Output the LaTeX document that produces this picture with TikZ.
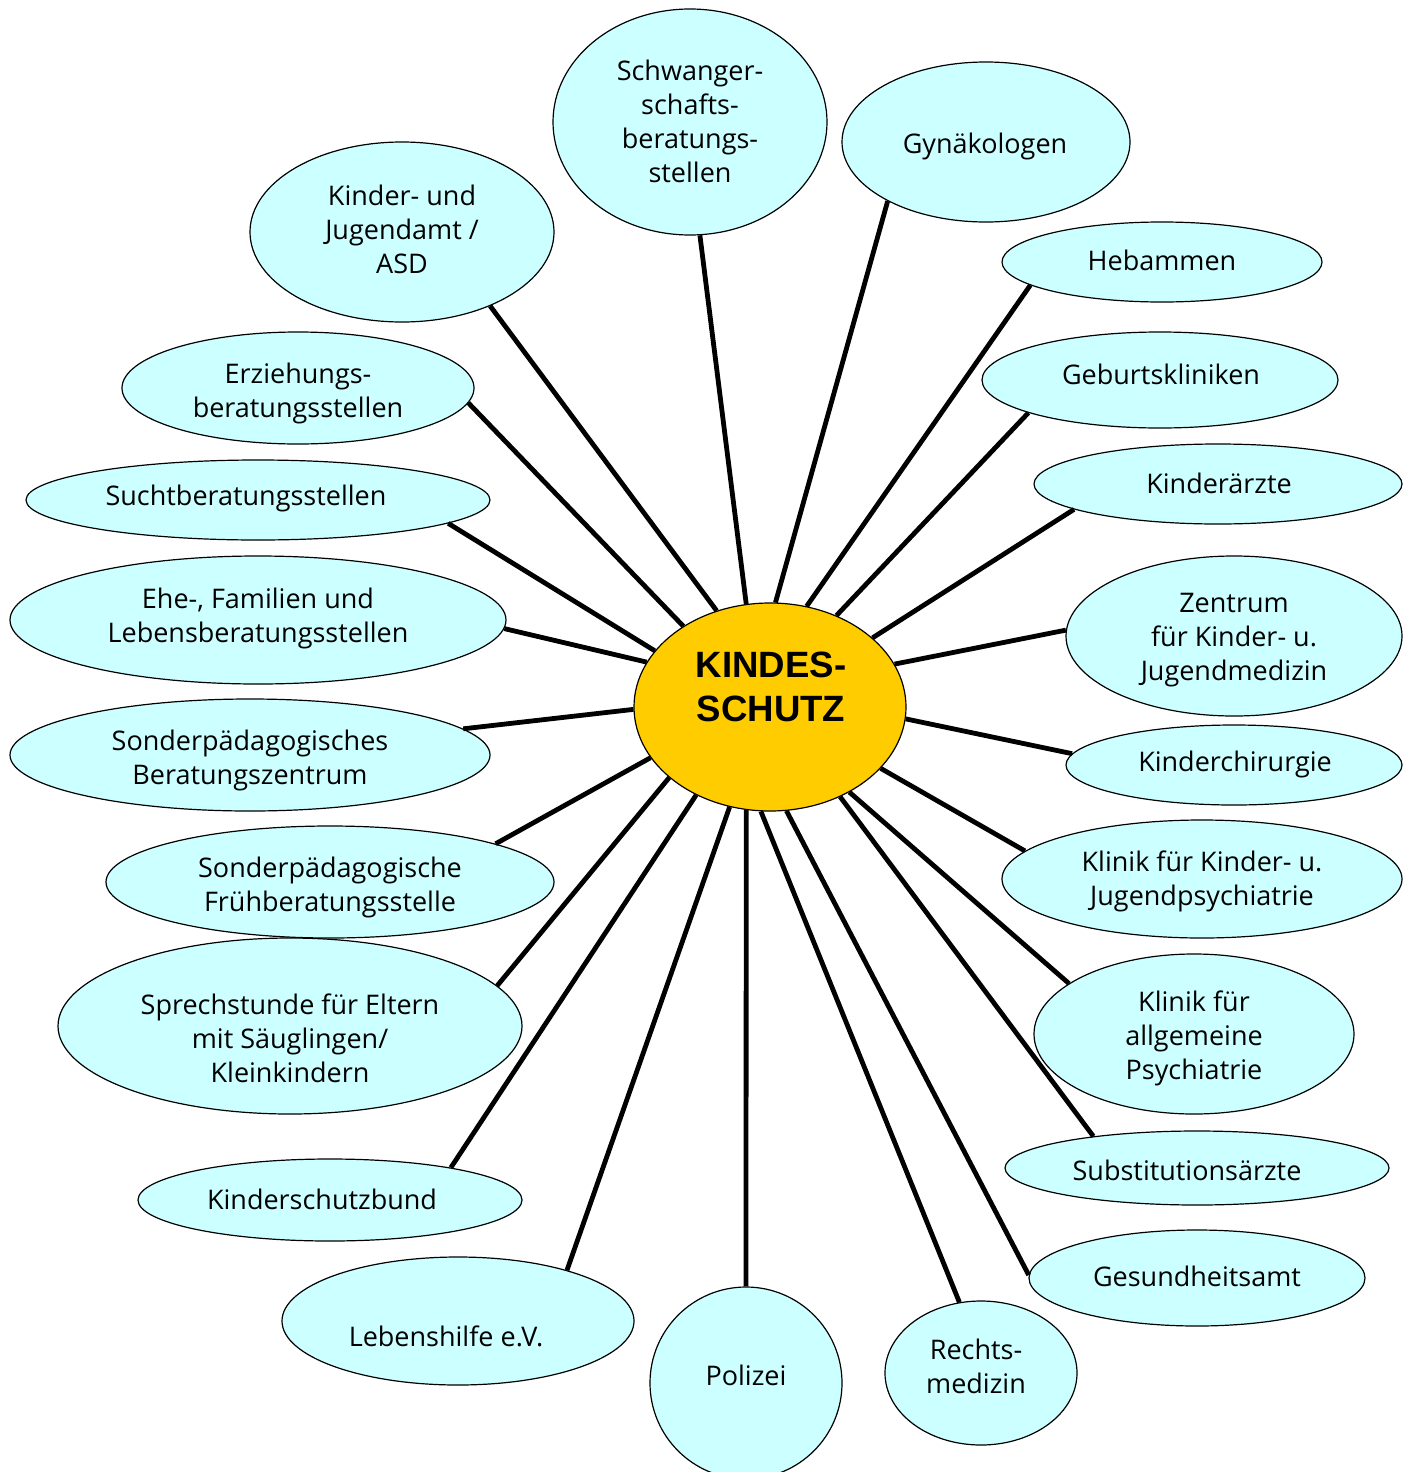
\documentclass[tikz,border=0pt]{standalone}
\usepackage{fontspec}
\setmainfont{Open Sans}
\newfontfamily\boldsans{Liberation Sans}
\usetikzlibrary{shapes.geometric}
\definecolor{bubfill}{HTML}{CCFFFF}
\definecolor{corefill}{HTML}{FFCC00}
\tikzset{
  bub/.style={ellipse, draw=black, line width=0.6pt, fill=bubfill, inner sep=0pt},
  lbl/.style={align=center, inner sep=0pt, font=\fontsize{13.5pt}{17pt}\selectfont},
  conn/.style={line width=2.4pt, draw=black},
}
\newcommand\mybub[8]{%
  \node[bub, minimum width=#4pt, minimum height=#5pt] (#1) at (#2,#3) {};
  \node[lbl] (#1t) at (#2+#6,#3+#7+2) {#8};
}
\begin{document}
\begin{tikzpicture}[x=0.5pt,y=-0.5pt]
\useasboundingbox (0,0) rectangle (1413,1472);
% centre
\node[ellipse, draw=black, line width=0.6pt, fill=corefill, inner sep=0pt,
      minimum width=136pt, minimum height=104pt] (k) at (770,707) {};
\node[align=center, inner sep=0pt, font=\boldsans\bfseries\fontsize{18.3pt}{22pt}\selectfont] (kt) at (771,687) {KINDES-\\SCHUTZ};
% bubbles: name, cx, cy, rx, ry, dx, dy, text
\mybub{b1}{690}{122}{137}{113}{0}{-3}{Schwanger-\\schafts-\\beratungs-\\stellen}
\mybub{b2}{986}{142}{144}{80}{-1}{2}{Gynäkologen}
\mybub{b3}{1162}{262}{160}{40}{0}{-4}{Hebammen}
\mybub{b4}{1160}{380}{178}{48}{1}{-8}{Geburtskliniken}
\mybub{b5}{1218}{484}{184}{40}{1}{-3}{Kinderärzte}
\mybub{b6}{1234}{636}{168}{80}{0}{2}{Zentrum\\für Kinder- u.\\Jugendmedizin}
\mybub{b7}{1234}{765}{168}{40}{1}{-3}{Kinderchirurgie}
\mybub{b8}{1202}{879}{200}{59}{0}{0}{Klinik für Kinder- u.\\Jugendpsychiatrie}
\mybub{b9}{1194}{1034}{160}{80}{0}{2}{Klinik für\\allgemeine\\Psychiatrie}
\mybub{b10}{1197}{1168}{192}{37}{-10}{0}{Substitutionsärzte}
\mybub{b11}{1197}{1278}{168}{48}{0}{-4}{Gesundheitsamt}
\mybub{b12}{981}{1373}{96}{72}{-5}{-9}{Rechts-\\medizin}
\mybub{b13}{746}{1383}{96}{96}{0}{-10}{Polizei}
\mybub{b14}{458}{1321}{176}{64}{-12}{13}{Lebenshilfe e.V.}
\mybub{b15}{330}{1200}{192}{41}{-8}{-3}{Kinderschutzbund}
\mybub{b16}{290}{1026}{232}{88}{0}{10}{Sprechstunde für Eltern\\mit Säuglingen/\\Kleinkindern}
\mybub{b17}{330}{882}{224}{56}{0}{3}{Sonderpädagogische\\Frühberatungsstelle}
\mybub{b18}{250}{755}{240}{56}{0}{3}{Sonderpädagogisches\\Beratungszentrum}
\mybub{b19}{258}{620}{248}{64}{0}{-4}{Ehe-, Familien und\\Lebensberatungsstellen}
\mybub{b20}{258}{500}{232}{40}{-12}{-4}{Suchtberatungsstellen}
\mybub{b21}{298}{388}{176}{56}{0}{3}{Erziehungs-\\beratungsstellen}
\mybub{b22}{402}{232}{152}{90}{0}{-5}{Kinder- und\\Jugendamt /\\ASD}
% connectors
\draw[conn] (k.103.4) -- (b1.-85.9);
\draw[conn] (k.87.8) -- (b2.-149);
\draw[conn] (k.70) -- (b3.-170.8);
\draw[conn] (k.54) -- (b4.-166.9);
\draw[conn] (k.34.1) -- (b5.-170.3);
\draw[conn] (k.19.9) -- (b6.178.3);
\draw[conn] (k.-5.1) -- (b7.176.5);
\draw[conn] (k.-29.8) -- (b8.171);
\draw[conn] (k.-47.1) -- (b9.158.7);
\draw[conn] (k.-52.9) -- (b10.163.7);
\draw[conn] (k.-81.3) -- (b11.179.3);
\draw[conn] (k.-95) -- (b12.107.7);
\draw[conn] (k.-103.2) -- (b13.90);
\draw[conn] (k.-112) -- (b14.25.4);
\draw[conn] (k.-130.5) -- (b15.15.1);
\draw[conn] (k.-145.3) -- (b16.11);
\draw[conn] (k.-157) -- (b17.13.1);
\draw[conn] (k.-179.2) -- (b18.7.9);
\draw[conn] (k.160.9) -- (b19.-2.6);
\draw[conn] (k.154.6) -- (b20.-7.4);
\draw[conn] (k.137.7) -- (b21.-5.8);
\draw[conn] (k.119.7) -- (b22.-40.1);
\end{tikzpicture}
\end{document}
